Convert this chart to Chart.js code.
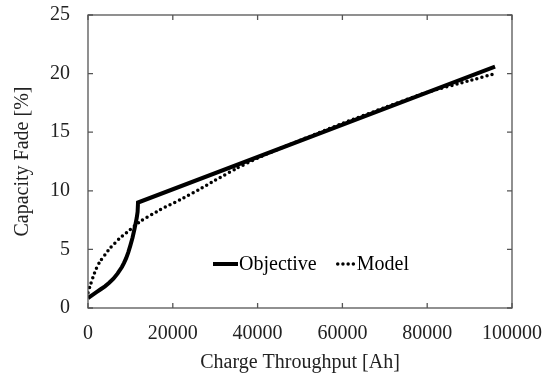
<!DOCTYPE html>
<html>
<head>
<meta charset="utf-8">
<script src="https://cdn.jsdelivr.net/npm/chart.js@4/dist/chart.umd.min.js"></script>
<style>
  html, body { margin: 0; padding: 0; background: #fff; }
  #wrap { width: 553px; height: 378px; }
</style>
</head>
<body>
<div id="wrap"><canvas id="fadeChart" width="553" height="378"></canvas></div>
<script>
// datos
const objectiveAh = [0, 1000, 2000, 3000, 4000, 5000, 6000, 7000, 8000, 8500, 9000, 9500, 10000, 10500, 11000, 11500, 11700, 11800, 96000]
const objectiveFade = [0.85, 1.1, 1.35, 1.6, 1.85, 2.15, 2.5, 2.95, 3.5, 3.85, 4.25, 4.75, 5.35, 6.0, 6.8, 7.7, 8.2, 9.0, 20.6]
const modelAh = [0, 500, 1250, 2000, 2830, 4000, 5190, 7550, 9900, 12260, 16980, 21700, 26000, 30000, 35000, 40000, 50000, 60000, 70000, 80000, 90000, 96000]
const modelFade = [1.3, 1.9, 2.7, 3.4, 3.97, 4.55, 5.1, 5.97, 6.67, 7.38, 8.38, 9.23, 10.07, 10.9, 11.9, 12.8, 14.3, 15.75, 17.1, 18.4, 19.4, 20.0]
const xTicks = [0, 20000, 40000, 60000, 80000, 100000]
const yTicks = [0, 5, 10, 15, 20, 25]

const FONT = 'Liberation Serif'

function toPoints(xs, ys) {
    let pts = []
    for (let i = 0; i < xs.length; i++) {
        pts.push({ x: xs[i], y: ys[i] })
    }
    return pts
}

// marco y ticks hacia adentro en los cuatro lados
const frameTicks = {
    id: 'frameTicks',
    afterDraw(chart) {
        const ctx = chart.ctx, a = chart.chartArea
        const sx = chart.scales.x, sy = chart.scales.y
        const len = 5
        ctx.save()
        ctx.strokeStyle = '#555'
        ctx.lineWidth = 1.3
        ctx.strokeRect(a.left, a.top, a.right - a.left, a.bottom - a.top)
        ctx.beginPath()
        xTicks.forEach(function (v) {
            const px = sx.getPixelForValue(v)
            ctx.moveTo(px, a.bottom); ctx.lineTo(px, a.bottom - len)
            ctx.moveTo(px, a.top); ctx.lineTo(px, a.top + len)
        })
        yTicks.forEach(function (v) {
            const py = sy.getPixelForValue(v)
            ctx.moveTo(a.left, py); ctx.lineTo(a.left + len, py)
            ctx.moveTo(a.right, py); ctx.lineTo(a.right - len, py)
        })
        ctx.stroke()

        // leyenda dentro del area
        const ly = a.top + 249
        let lx = a.left + 125
        ctx.fillStyle = '#000'
        ctx.font = '20px "' + FONT + '"'
        ctx.textBaseline = 'middle'
        chart.data.datasets.forEach(function (ds, i) {
            ctx.beginPath()
            ctx.strokeStyle = '#000'
            ctx.lineWidth = ds.borderWidth
            ctx.lineCap = ds.borderCapStyle || 'butt'
            ctx.setLineDash(ds.borderDash || [])
            const w = i === 0 ? 25 : 20
            ctx.moveTo(lx + (i === 0 ? 0 : 2), ly); ctx.lineTo(lx + w, ly)
            ctx.stroke()
            ctx.setLineDash([])
            ctx.fillText(ds.label, lx + w + 1, ly + 1)
            lx += w + ctx.measureText(ds.label).width + 20
        })
        ctx.restore()
    }
}

const CANVAS = document.getElementById('fadeChart')

new Chart(CANVAS, {
    type: 'scatter',
    data: {
        datasets: [{
            label: 'Objective',
            data: toPoints(objectiveAh, objectiveFade),
            showLine: true,
            borderColor: '#000',
            borderWidth: 4,
            pointRadius: 0,
            tension: 0
        }, {
            label: 'Model',
            data: toPoints(modelAh, modelFade),
            showLine: true,
            borderColor: '#000',
            borderWidth: 3.5,
            borderDash: [0, 5.2],
            borderCapStyle: 'round',
            pointRadius: 0,
            tension: 0.2
        }]
    },
    options: {
        responsive: false,
        animation: false,
        layout: { padding: { left: 0, right: 41, top: 15, bottom: 0 } },
        plugins: {
            legend: { display: false },
            tooltip: { enabled: false }
        },
        scales: {
            x: {
                type: 'linear',
                min: 0,
                max: 100000,
                afterBuildTicks: function (scale) {
                    scale.ticks = xTicks.map(function (v) { return { value: v } })
                },
                afterFit: function (scale) {
                    scale.height = 70
                    scale.paddingLeft = 0
                    scale.paddingRight = 0
                },
                grid: { display: false, drawTicks: false },
                border: { display: false },
                ticks: {
                    color: '#222',
                    padding: 14,
                    maxRotation: 0,
                    font: { family: FONT, size: 20 },
                    callback: function (v) { return String(v) }
                },
                title: {
                    display: true,
                    text: 'Charge Throughput [Ah]',
                    color: '#222',
                    font: { family: FONT, size: 20 },
                    padding: { top: 0, bottom: 3 }
                }
            },
            y: {
                min: 0,
                max: 25,
                afterBuildTicks: function (scale) {
                    scale.ticks = yTicks.map(function (v) { return { value: v } })
                },
                afterFit: function (scale) {
                    scale.width = 88
                    scale.paddingTop = 0
                    scale.paddingBottom = 0
                },
                grid: { display: false, drawTicks: false },
                border: { display: false },
                ticks: {
                    color: '#222',
                    padding: 18,
                    font: { family: FONT, size: 20 }
                },
                title: {
                    display: true,
                    text: 'Capacity Fade [%]',
                    color: '#222',
                    font: { family: FONT, size: 20 },
                    padding: { top: 11, bottom: 0 }
                }
            }
        }
    },
    plugins: [frameTicks]
});
</script>
</body>
</html>
